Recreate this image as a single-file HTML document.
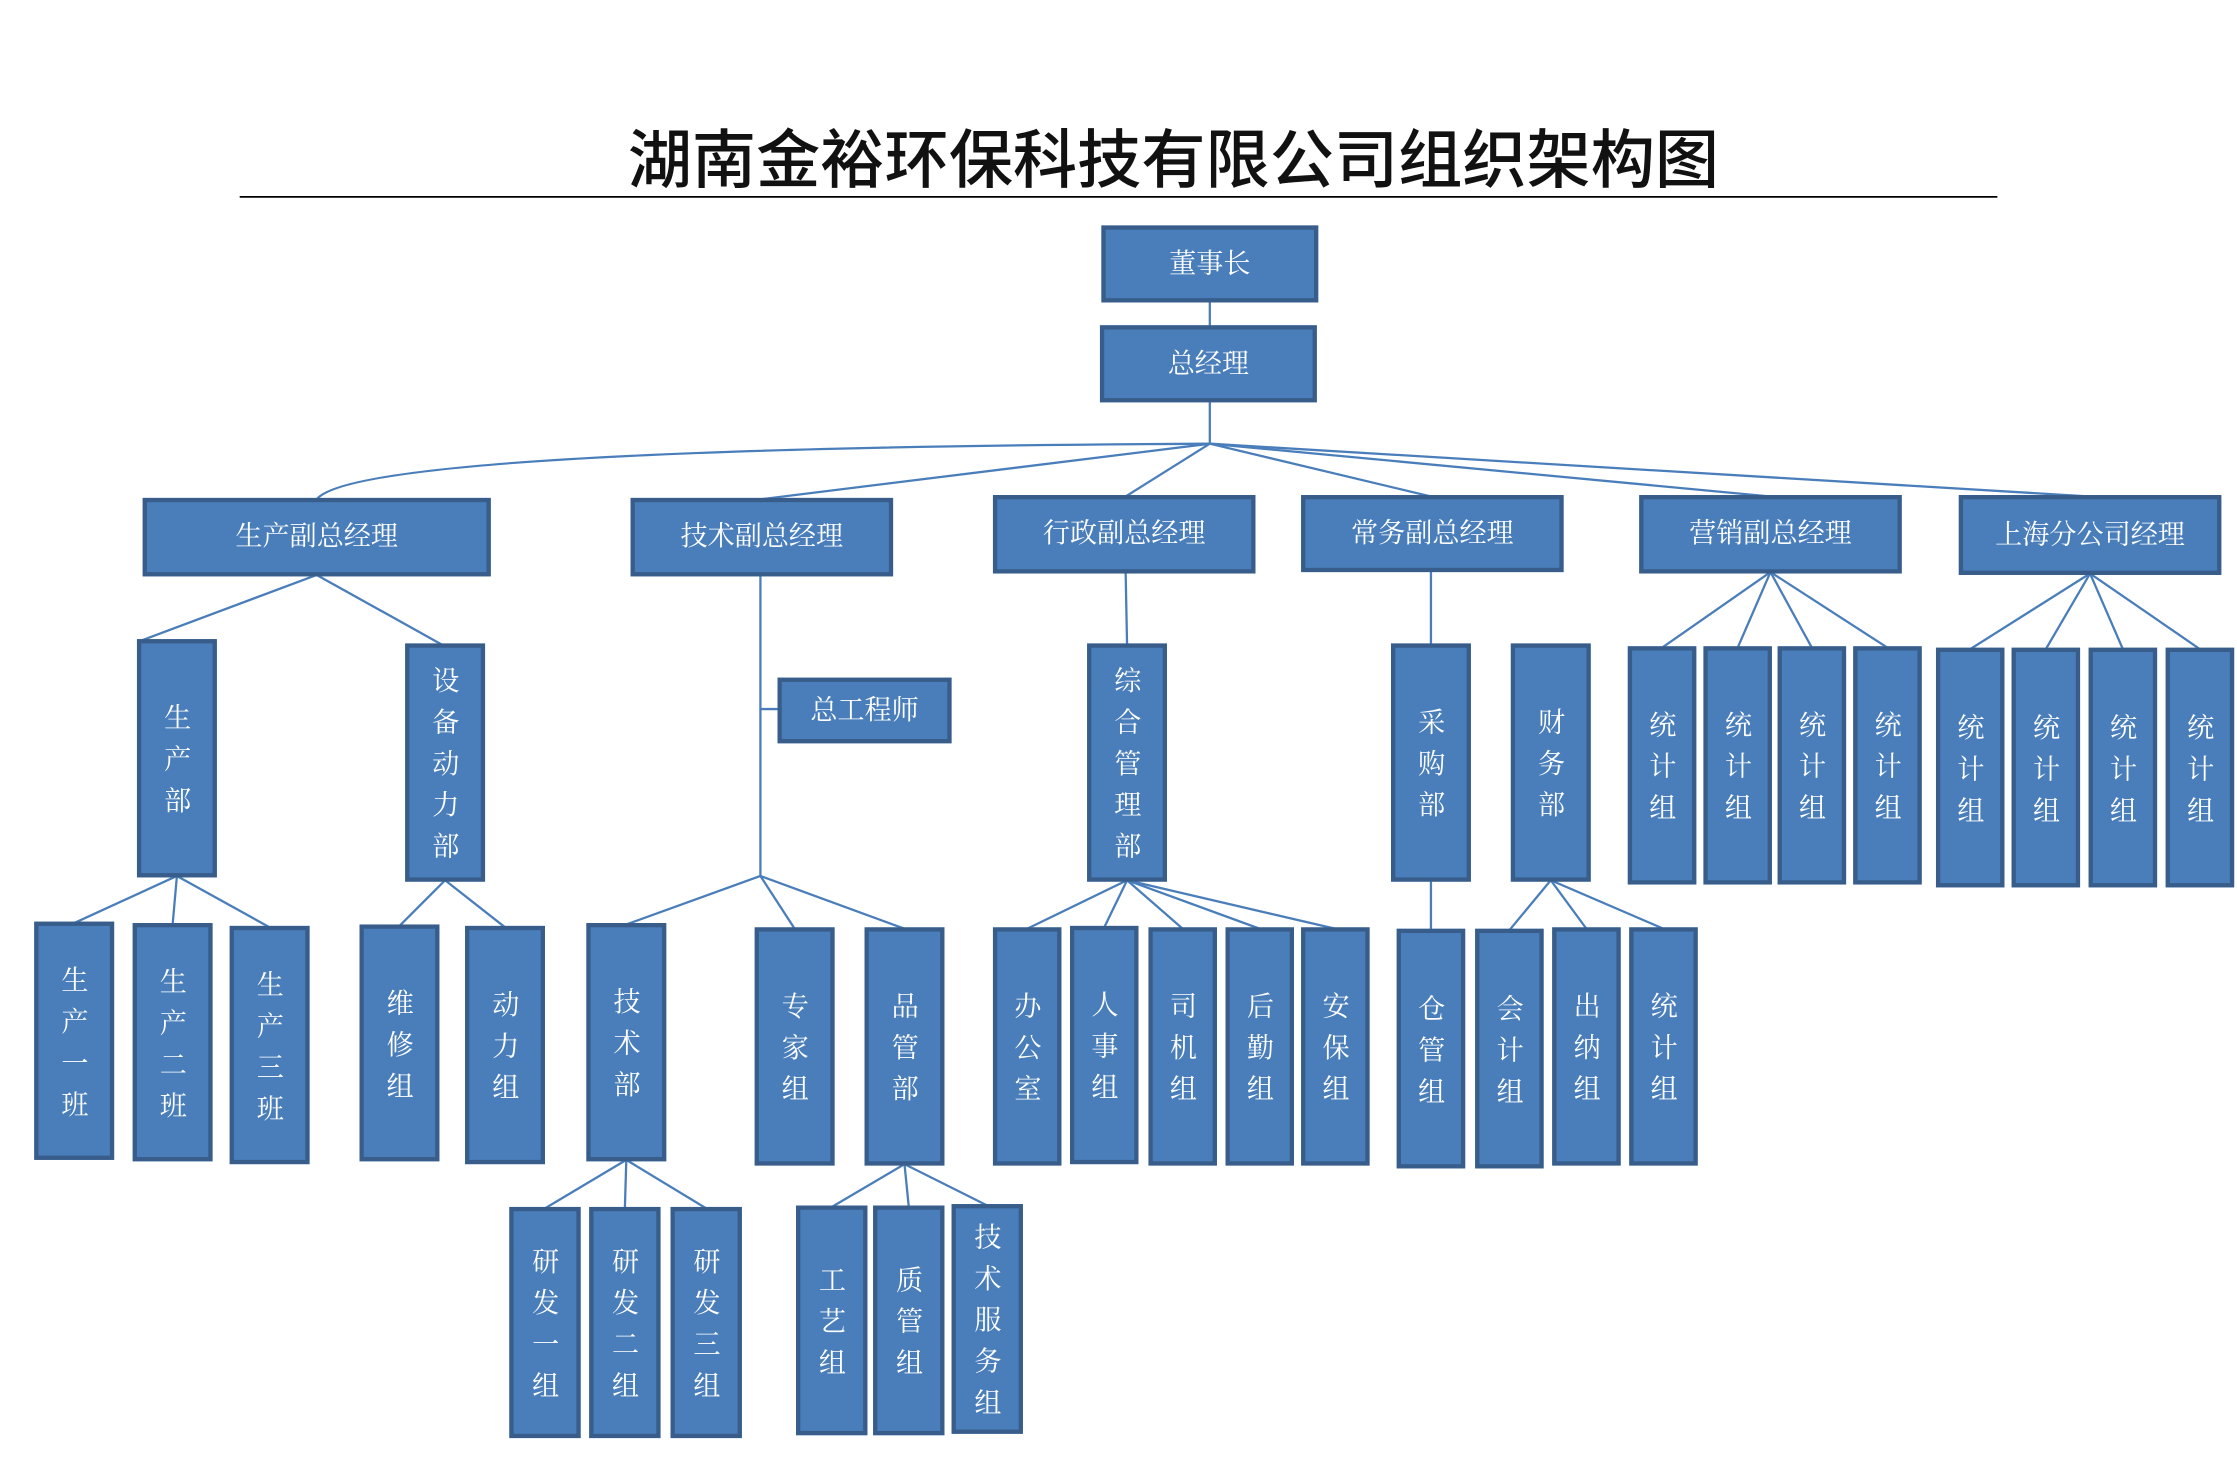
<!DOCTYPE html>
<html><head><meta charset="utf-8"><style>
html,body{margin:0;padding:0;background:#fff;width:2237px;height:1464px;overflow:hidden}
#c{position:absolute;left:0;top:0;width:1568px;height:1026px;transform:scale(1.42666);transform-origin:0 0}
.b{position:absolute;box-sizing:border-box;background:#4a7ebb;border:3px solid #385d8a;color:#fff;display:flex;align-items:center;justify-content:center;font-family:"Liberation Serif","Noto Serif CJK SC",serif;font-size:19px;line-height:1}
.v span{writing-mode:vertical-rl;text-orientation:upright;letter-spacing:10px;margin-top:10px;margin-left:-3px}
h1{position:absolute;left:0;width:1645px;text-align:center;top:76px;margin:0;font-family:"Liberation Sans","Noto Sans CJK SC",sans-serif;font-weight:500;font-size:45px;color:#111}
svg{position:absolute;left:0;top:0}
</style></head><body><div id="c">
<h1>湖南金裕环保科技有限公司组织架构图</h1>
<svg width="1568" height="1026" viewBox="0 0 1568 1026">
<line x1="168" y1="138" x2="1400" y2="138" stroke="#000" stroke-width="1.3"/>
<g stroke="#4a7ebb" stroke-width="1.6" fill="none">
<line x1="848" y1="211" x2="848" y2="229"/>
<line x1="848" y1="281" x2="848" y2="311"/>
<path d="M848,311 Q250,314 222,350"/>
<line x1="848" y1="311" x2="533" y2="350"/>
<line x1="848" y1="311" x2="789" y2="348"/>
<line x1="848" y1="311" x2="1003" y2="348"/>
<line x1="848" y1="311" x2="1241" y2="348"/>
<line x1="848" y1="311" x2="1465" y2="348"/>
<line x1="222" y1="403" x2="99" y2="449"/><line x1="222" y1="403" x2="310" y2="452"/>
<line x1="124" y1="614" x2="52" y2="647"/><line x1="124" y1="614" x2="121" y2="648"/><line x1="124" y1="614" x2="189" y2="650"/>
<line x1="312" y1="617" x2="280" y2="649"/><line x1="312" y1="617" x2="354" y2="650"/>
<line x1="533" y1="403" x2="533" y2="614"/><line x1="533" y1="497" x2="546" y2="497"/>
<line x1="533" y1="614" x2="439" y2="648"/><line x1="533" y1="614" x2="557" y2="651"/><line x1="533" y1="614" x2="634" y2="651"/>
<line x1="439" y1="813" x2="382" y2="847"/><line x1="439" y1="813" x2="438" y2="847"/><line x1="439" y1="813" x2="495" y2="847"/>
<line x1="634" y1="816" x2="583" y2="846"/><line x1="634" y1="816" x2="637" y2="846"/><line x1="634" y1="816" x2="692" y2="845"/>
<line x1="789" y1="401" x2="790" y2="452"/>
<line x1="790" y1="617" x2="720" y2="651"/><line x1="790" y1="617" x2="774" y2="650"/><line x1="790" y1="617" x2="829" y2="651"/><line x1="790" y1="617" x2="883" y2="651"/><line x1="790" y1="617" x2="936" y2="651"/>
<line x1="1003" y1="400" x2="1003" y2="452"/><line x1="1003" y1="617" x2="1003" y2="652"/>
<line x1="1087" y1="617" x2="1058" y2="652"/><line x1="1087" y1="617" x2="1112" y2="651"/><line x1="1087" y1="617" x2="1166" y2="651"/>
<line x1="1241" y1="401" x2="1165" y2="454"/><line x1="1241" y1="401" x2="1218" y2="454"/><line x1="1241" y1="401" x2="1270" y2="454"/><line x1="1241" y1="401" x2="1323" y2="454"/>
<line x1="1465" y1="402" x2="1381" y2="455"/><line x1="1465" y1="402" x2="1434" y2="455"/><line x1="1465" y1="402" x2="1488" y2="455"/><line x1="1465" y1="402" x2="1542" y2="455"/>
</g></svg>
<div class="b" style="left:772px;top:158px;width:152px;height:54px">董事长</div>
<div class="b" style="left:771px;top:228px;width:152px;height:54px">总经理</div>
<div class="b" style="left:100px;top:349px;width:244px;height:55px">生产副总经理</div>
<div class="b" style="left:442px;top:349px;width:184px;height:55px">技术副总经理</div>
<div class="b" style="left:696px;top:347px;width:184px;height:55px">行政副总经理</div>
<div class="b" style="left:912px;top:347px;width:184px;height:54px">常务副总经理</div>
<div class="b" style="left:1149px;top:347px;width:184px;height:55px">营销副总经理</div>
<div class="b" style="left:1373px;top:347px;width:184px;height:56px">上海分公司经理</div>
<div class="b" style="left:545px;top:475px;width:122px;height:46px">总工程师</div>
<div class="b v" style="left:96px;top:448px;width:56px;height:167px"><span>生产部</span></div>
<div class="b v" style="left:284px;top:451px;width:56px;height:167px"><span>设备动力部</span></div>
<div class="b v" style="left:24px;top:646px;width:56px;height:167px"><span>生产一班</span></div>
<div class="b v" style="left:93px;top:647px;width:56px;height:167px"><span>生产二班</span></div>
<div class="b v" style="left:161px;top:649px;width:56px;height:167px"><span>生产三班</span></div>
<div class="b v" style="left:252px;top:648px;width:56px;height:166px"><span>维修组</span></div>
<div class="b v" style="left:326px;top:649px;width:56px;height:167px"><span>动力组</span></div>
<div class="b v" style="left:411px;top:647px;width:56px;height:167px"><span>技术部</span></div>
<div class="b v" style="left:529px;top:650px;width:56px;height:167px"><span>专家组</span></div>
<div class="b v" style="left:606px;top:650px;width:56px;height:167px"><span>品管部</span></div>
<div class="b v" style="left:357px;top:846px;width:50px;height:162px"><span>研发一组</span></div>
<div class="b v" style="left:413px;top:846px;width:50px;height:162px"><span>研发二组</span></div>
<div class="b v" style="left:470px;top:846px;width:50px;height:162px"><span>研发三组</span></div>
<div class="b v" style="left:558px;top:845px;width:50px;height:161px"><span>工艺组</span></div>
<div class="b v" style="left:612px;top:845px;width:50px;height:161px"><span>质管组</span></div>
<div class="b v" style="left:667px;top:844px;width:50px;height:161px"><span>技术服务组</span></div>
<div class="b v" style="left:762px;top:451px;width:56px;height:167px"><span>综合管理部</span></div>
<div class="b v" style="left:696px;top:650px;width:48px;height:167px"><span>办公室</span></div>
<div class="b v" style="left:750px;top:649px;width:48px;height:167px"><span>人事组</span></div>
<div class="b v" style="left:805px;top:650px;width:48px;height:167px"><span>司机组</span></div>
<div class="b v" style="left:859px;top:650px;width:48px;height:167px"><span>后勤组</span></div>
<div class="b v" style="left:912px;top:650px;width:48px;height:167px"><span>安保组</span></div>
<div class="b v" style="left:975px;top:451px;width:56px;height:167px"><span>采购部</span></div>
<div class="b v" style="left:1059px;top:451px;width:56px;height:167px"><span>财务部</span></div>
<div class="b v" style="left:979px;top:651px;width:48px;height:168px"><span>仓管组</span></div>
<div class="b v" style="left:1034px;top:651px;width:48px;height:168px"><span>会计组</span></div>
<div class="b v" style="left:1088px;top:650px;width:48px;height:167px"><span>出纳组</span></div>
<div class="b v" style="left:1142px;top:650px;width:48px;height:167px"><span>统计组</span></div>
<div class="b v" style="left:1141px;top:453px;width:48px;height:167px"><span>统计组</span></div>
<div class="b v" style="left:1194px;top:453px;width:48px;height:167px"><span>统计组</span></div>
<div class="b v" style="left:1246px;top:453px;width:48px;height:167px"><span>统计组</span></div>
<div class="b v" style="left:1299px;top:453px;width:48px;height:167px"><span>统计组</span></div>
<div class="b v" style="left:1357px;top:454px;width:48px;height:168px"><span>统计组</span></div>
<div class="b v" style="left:1410px;top:454px;width:48px;height:168px"><span>统计组</span></div>
<div class="b v" style="left:1464px;top:454px;width:48px;height:168px"><span>统计组</span></div>
<div class="b v" style="left:1518px;top:454px;width:48px;height:168px"><span>统计组</span></div>
</div></body></html>
